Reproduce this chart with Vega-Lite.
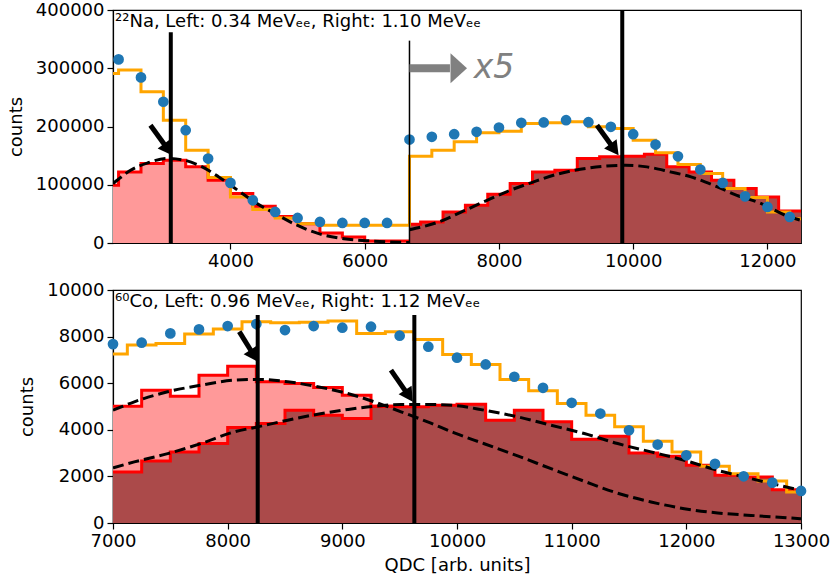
{
  "$schema": "https://vega.github.io/schema/vega-lite/v6.json",
  "padding": {"left": 6, "top": 0, "right": 2, "bottom": 2},
  "spacing": 9,
  "datasets": {
    "top_hist": [
      {"s": "sum", "x": 2250, "y": 291100}, {"s": "sum", "x": 2333, "y": 296800}, {"s": "sum", "x": 2667, "y": 259700},
      {"s": "sum", "x": 3000, "y": 210800}, {"s": "sum", "x": 3333, "y": 159300}, {"s": "sum", "x": 3667, "y": 112300},
      {"s": "sum", "x": 4000, "y": 79100}, {"s": "sum", "x": 4333, "y": 57300}, {"s": "sum", "x": 4667, "y": 43000},
      {"s": "sum", "x": 5000, "y": 33200}, {"s": "sum", "x": 5333, "y": 30300}, {"s": "sum", "x": 6667, "y": 148900},
      {"s": "sum", "x": 7000, "y": 159300}, {"s": "sum", "x": 7333, "y": 173700}, {"s": "sum", "x": 7667, "y": 189200},
      {"s": "sum", "x": 8000, "y": 191900}, {"s": "sum", "x": 8333, "y": 205200}, {"s": "sum", "x": 8667, "y": 206400},
      {"s": "sum", "x": 9000, "y": 208100}, {"s": "sum", "x": 9333, "y": 199500}, {"s": "sum", "x": 9667, "y": 196600},
      {"s": "sum", "x": 10000, "y": 176400}, {"s": "sum", "x": 10333, "y": 154800}, {"s": "sum", "x": 10667, "y": 134700},
      {"s": "sum", "x": 11000, "y": 119200}, {"s": "sum", "x": 11333, "y": 93400}, {"s": "sum", "x": 11667, "y": 77900},
      {"s": "sum", "x": 12000, "y": 53300}, {"s": "sum", "x": 12333, "y": 41800}, {"s": "sum", "x": 12500, "y": 41800},
      {"s": "left", "x": 2250, "y": 99100}, {"s": "left", "x": 2333, "y": 122100}, {"s": "left", "x": 2667, "y": 136400},
      {"s": "left", "x": 3000, "y": 142000}, {"s": "left", "x": 3333, "y": 130700}, {"s": "left", "x": 3667, "y": 107700},
      {"s": "left", "x": 4000, "y": 84800}, {"s": "left", "x": 4333, "y": 62900}, {"s": "left", "x": 4667, "y": 45700},
      {"s": "left", "x": 5000, "y": 33200}, {"s": "left", "x": 5333, "y": 17200}, {"s": "left", "x": 5667, "y": 10300},
      {"s": "left", "x": 6000, "y": 3400}, {"s": "left", "x": 6333, "y": 3400}, {"s": "left", "x": 6667, "y": 3400},
      {"s": "right", "x": 6667, "y": 32000}, {"s": "right", "x": 6833, "y": 36100}, {"s": "right", "x": 7167, "y": 53300},
      {"s": "right", "x": 7500, "y": 64700}, {"s": "right", "x": 7833, "y": 83600}, {"s": "right", "x": 8167, "y": 102000},
      {"s": "right", "x": 8500, "y": 122100}, {"s": "right", "x": 8833, "y": 124800}, {"s": "right", "x": 9167, "y": 145000},
      {"s": "right", "x": 9500, "y": 147900}, {"s": "right", "x": 9833, "y": 148900}, {"s": "right", "x": 10167, "y": 152400},
      {"s": "right", "x": 10500, "y": 130700}, {"s": "right", "x": 10833, "y": 122100}, {"s": "right", "x": 11167, "y": 107700},
      {"s": "right", "x": 11500, "y": 93400}, {"s": "right", "x": 11833, "y": 79100}, {"s": "right", "x": 12167, "y": 55000},
      {"s": "right", "x": 12500, "y": 55000}
    ],
    "top_dots": [
      {"x": 2333, "y": 315200}, {"x": 2667, "y": 284300}, {"x": 3000, "y": 242500}, {"x": 3333, "y": 193600},
      {"x": 3667, "y": 145000}, {"x": 4000, "y": 103200}, {"x": 4333, "y": 73300}, {"x": 4667, "y": 53300},
      {"x": 5000, "y": 43000}, {"x": 5333, "y": 36100}, {"x": 5667, "y": 34400}, {"x": 6000, "y": 34400},
      {"x": 6333, "y": 34400}, {"x": 6667, "y": 177600}, {"x": 7000, "y": 182300}, {"x": 7333, "y": 186800},
      {"x": 7667, "y": 190900}, {"x": 8000, "y": 198300}, {"x": 8333, "y": 206400}, {"x": 8667, "y": 206900},
      {"x": 9000, "y": 210800}, {"x": 9333, "y": 207400}, {"x": 9667, "y": 199500}, {"x": 10000, "y": 186800},
      {"x": 10333, "y": 169000}, {"x": 10667, "y": 148900}, {"x": 11000, "y": 126100}, {"x": 11333, "y": 103200},
      {"x": 11667, "y": 80100}, {"x": 12000, "y": 61900}, {"x": 12333, "y": 44700}
    ],
    "top_fit": [
      {"s": "left", "x": 2250, "y": 102000}, {"s": "left", "x": 2312, "y": 107700}, {"s": "left", "x": 2511, "y": 124800},
      {"s": "left", "x": 2769, "y": 137600}, {"s": "left", "x": 3057, "y": 145000}, {"s": "left", "x": 3316, "y": 142000},
      {"s": "left", "x": 3579, "y": 130700}, {"s": "left", "x": 3826, "y": 113500}, {"s": "left", "x": 4109, "y": 90500},
      {"s": "left", "x": 4372, "y": 69300}, {"s": "left", "x": 4645, "y": 51600}, {"s": "left", "x": 4943, "y": 33200},
      {"s": "left", "x": 5315, "y": 16000}, {"s": "left", "x": 5688, "y": 7400}, {"s": "left", "x": 6109, "y": 3400},
      {"s": "left", "x": 6606, "y": 1000}, {"s": "left", "x": 6667, "y": 900},
      {"s": "right", "x": 6667, "y": 22900}, {"s": "right", "x": 7102, "y": 36100}, {"s": "right", "x": 7474, "y": 55000},
      {"s": "right", "x": 7822, "y": 73300}, {"s": "right", "x": 8169, "y": 90500}, {"s": "right", "x": 8516, "y": 104900},
      {"s": "right", "x": 8865, "y": 118000}, {"s": "right", "x": 9212, "y": 126600}, {"s": "right", "x": 9550, "y": 131700},
      {"s": "right", "x": 9883, "y": 133400}, {"s": "right", "x": 10205, "y": 130700}, {"s": "right", "x": 10552, "y": 122100},
      {"s": "right", "x": 10861, "y": 113500}, {"s": "right", "x": 11197, "y": 99100}, {"s": "right", "x": 11545, "y": 81900},
      {"s": "right", "x": 11910, "y": 67600}, {"s": "right", "x": 12308, "y": 45700}, {"s": "right", "x": 12500, "y": 38900}
    ],
    "top_cuts": [
      {"kind": "cut", "x": 3111, "y": 361600},
      {"kind": "cut", "x": 9837, "y": 400000},
      {"kind": "split", "x": 6667, "y": 347400}
    ],
    "top_arrows": [
      {"x": 2808, "y": 202200, "xs": 3035, "ys": 166000, "xh": 3131, "yh": 150700},
      {"x": 9460, "y": 202200, "xs": 9686, "ys": 166000, "xh": 9782, "yh": 150700}
    ],
    "top_scale": [
      {"x": 6667, "xs": 7270, "xh": 7524, "xt": 7625, "y": 300000, "label": "x5"}
    ],
    "top_label": [
      {"x": 2250, "y": 400000, "label": "²²Na, Left: 0.34 MeVₑₑ, Right: 1.10 MeVₑₑ"}
    ],
    "bot_hist": [
      {"s": "sum", "x": 7000, "y": 7249}, {"s": "sum", "x": 7125, "y": 7635}, {"s": "sum", "x": 7375, "y": 7708},
      {"s": "sum", "x": 7625, "y": 8108}, {"s": "sum", "x": 7875, "y": 8323}, {"s": "sum", "x": 8125, "y": 8641},
      {"s": "sum", "x": 8375, "y": 8598}, {"s": "sum", "x": 8625, "y": 8611}, {"s": "sum", "x": 8875, "y": 8667},
      {"s": "sum", "x": 9125, "y": 8138}, {"s": "sum", "x": 9375, "y": 8211}, {"s": "sum", "x": 9625, "y": 7880},
      {"s": "sum", "x": 9875, "y": 7235}, {"s": "sum", "x": 10125, "y": 6805}, {"s": "sum", "x": 10375, "y": 6160},
      {"s": "sum", "x": 10625, "y": 5675}, {"s": "sum", "x": 10875, "y": 5129}, {"s": "sum", "x": 11125, "y": 4626},
      {"s": "sum", "x": 11375, "y": 4127}, {"s": "sum", "x": 11625, "y": 3508}, {"s": "sum", "x": 11875, "y": 3052},
      {"s": "sum", "x": 12125, "y": 2433}, {"s": "sum", "x": 12375, "y": 2119}, {"s": "sum", "x": 12625, "y": 1806},
      {"s": "sum", "x": 12875, "y": 1333}, {"s": "sum", "x": 13000, "y": 1333},
      {"s": "left", "x": 7000, "y": 5013}, {"s": "left", "x": 7250, "y": 5701}, {"s": "left", "x": 7500, "y": 5443},
      {"s": "left", "x": 7750, "y": 6346}, {"s": "left", "x": 8000, "y": 6732}, {"s": "left", "x": 8250, "y": 6062},
      {"s": "left", "x": 8500, "y": 5989}, {"s": "left", "x": 8750, "y": 5817}, {"s": "left", "x": 9000, "y": 5486},
      {"s": "left", "x": 9250, "y": 5013}, {"s": "left", "x": 9500, "y": 5013},
      {"s": "right", "x": 7000, "y": 2192}, {"s": "right", "x": 7250, "y": 2665}, {"s": "right", "x": 7500, "y": 3052},
      {"s": "right", "x": 7750, "y": 3409}, {"s": "right", "x": 8000, "y": 4097}, {"s": "right", "x": 8250, "y": 4269},
      {"s": "right", "x": 8500, "y": 4841}, {"s": "right", "x": 8750, "y": 4626}, {"s": "right", "x": 9000, "y": 4484},
      {"s": "right", "x": 9250, "y": 5013}, {"s": "right", "x": 9500, "y": 4987}, {"s": "right", "x": 9750, "y": 5056},
      {"s": "right", "x": 10000, "y": 5099}, {"s": "right", "x": 10250, "y": 4411}, {"s": "right", "x": 10500, "y": 4841},
      {"s": "right", "x": 10750, "y": 4342}, {"s": "right", "x": 11000, "y": 3594}, {"s": "right", "x": 11250, "y": 3723},
      {"s": "right", "x": 11500, "y": 3009}, {"s": "right", "x": 11750, "y": 2863}, {"s": "right", "x": 12000, "y": 2476},
      {"s": "right", "x": 12250, "y": 2046}, {"s": "right", "x": 12500, "y": 1978}, {"s": "right", "x": 12750, "y": 1432},
      {"s": "right", "x": 13000, "y": 1432}
    ],
    "bot_dots": [
      {"x": 7000, "y": 7678}, {"x": 7250, "y": 7738}, {"x": 7500, "y": 8138}, {"x": 7750, "y": 8310},
      {"x": 8000, "y": 8452}, {"x": 8250, "y": 8538}, {"x": 8500, "y": 8280}, {"x": 8750, "y": 8452},
      {"x": 9000, "y": 8383}, {"x": 9250, "y": 8426}, {"x": 9500, "y": 8039}, {"x": 9750, "y": 7566},
      {"x": 10000, "y": 7093}, {"x": 10250, "y": 6805}, {"x": 10500, "y": 6277}, {"x": 10750, "y": 5804},
      {"x": 11000, "y": 5159}, {"x": 11250, "y": 4699}, {"x": 11500, "y": 3981}, {"x": 11750, "y": 3366},
      {"x": 12000, "y": 2906}, {"x": 12250, "y": 2536}, {"x": 12500, "y": 2003}, {"x": 12750, "y": 1732},
      {"x": 13000, "y": 1376}
    ],
    "bot_fit": [
      {"s": "left", "x": 7000, "y": 4841}, {"s": "left", "x": 7186, "y": 5202}, {"s": "left", "x": 7477, "y": 5632},
      {"s": "left", "x": 7767, "y": 5916}, {"s": "left", "x": 8058, "y": 6130}, {"s": "left", "x": 8262, "y": 6160},
      {"s": "left", "x": 8524, "y": 6062}, {"s": "left", "x": 8785, "y": 5847}, {"s": "left", "x": 9047, "y": 5559},
      {"s": "left", "x": 9279, "y": 5202}, {"s": "left", "x": 9512, "y": 4772}, {"s": "left", "x": 9744, "y": 4342},
      {"s": "left", "x": 9977, "y": 3869}, {"s": "left", "x": 10238, "y": 3400}, {"s": "left", "x": 10529, "y": 2880},
      {"s": "left", "x": 10820, "y": 2330}, {"s": "left", "x": 11110, "y": 1790}, {"s": "left", "x": 11401, "y": 1280},
      {"s": "left", "x": 11692, "y": 903}, {"s": "left", "x": 11982, "y": 615}, {"s": "left", "x": 12273, "y": 430},
      {"s": "left", "x": 12564, "y": 327}, {"s": "left", "x": 13000, "y": 185},
      {"s": "right", "x": 7000, "y": 2364}, {"s": "right", "x": 7186, "y": 2622}, {"s": "right", "x": 7477, "y": 2979},
      {"s": "right", "x": 7767, "y": 3409}, {"s": "right", "x": 8058, "y": 3912}, {"s": "right", "x": 8262, "y": 4127},
      {"s": "right", "x": 8524, "y": 4411}, {"s": "right", "x": 8785, "y": 4669}, {"s": "right", "x": 9047, "y": 4871},
      {"s": "right", "x": 9279, "y": 5013}, {"s": "right", "x": 9512, "y": 5086}, {"s": "right", "x": 9744, "y": 5086},
      {"s": "right", "x": 9977, "y": 5043}, {"s": "right", "x": 10238, "y": 4841}, {"s": "right", "x": 10529, "y": 4557},
      {"s": "right", "x": 10820, "y": 4196}, {"s": "right", "x": 11110, "y": 3839}, {"s": "right", "x": 11401, "y": 3409},
      {"s": "right", "x": 11692, "y": 3052}, {"s": "right", "x": 11982, "y": 2691}, {"s": "right", "x": 12273, "y": 2261},
      {"s": "right", "x": 12564, "y": 1904}, {"s": "right", "x": 13000, "y": 1401}
    ],
    "bot_cuts": [
      {"x": 8262, "y": 8925},
      {"x": 9628, "y": 8925}
    ],
    "bot_arrows": [
      {"x": 8101, "y": 8211, "xs": 8212, "ys": 7330, "xh": 8262, "yh": 6921},
      {"x": 9424, "y": 6560, "xs": 9560, "ys": 5593, "xh": 9614, "yh": 5202}
    ],
    "bot_label": [
      {"x": 7000, "y": 10000, "label": "⁶⁰Co, Left: 0.96 MeVₑₑ, Right: 1.12 MeVₑₑ"}
    ]
  },
  "vconcat": [
    {
      "width": 688,
      "height": 233,
      "encoding": {
        "x": {
          "field": "x",
          "type": "quantitative",
          "scale": {"domain": [2250, 12500], "nice": false, "zero": false},
          "axis": {"values": [4000, 6000, 8000, 10000, 12000], "format": "d", "title": null}
        },
        "y": {
          "field": "y",
          "type": "quantitative",
          "scale": {"domain": [0, 400000], "nice": false},
          "axis": {"values": [0, 100000, 200000, 300000, 400000], "format": "d", "title": "counts"}
        }
      },
      "layer": [
        {
          "data": {"name": "top_hist"},
          "transform": [{"filter": "datum.s == 'left'"}],
          "mark": {"type": "area", "interpolate": "step-after", "color": "#ff9999", "opacity": 1, "clip": true}
        },
        {
          "data": {"name": "top_hist"},
          "transform": [{"filter": "datum.s == 'right'"}],
          "mark": {"type": "area", "interpolate": "step-after", "color": "#ab4a4a", "opacity": 1, "clip": true}
        },
        {
          "data": {"name": "top_hist"},
          "transform": [{"filter": "datum.s != 'sum'"}],
          "mark": {"type": "line", "interpolate": "step-after", "color": "#ff0000", "strokeWidth": 3, "clip": true},
          "encoding": {"detail": {"field": "s"}}
        },
        {
          "data": {"name": "top_hist"},
          "transform": [{"filter": "datum.s == 'sum'"}],
          "mark": {"type": "line", "interpolate": "step-after", "color": "#ffa500", "strokeWidth": 3, "clip": true}
        },
        {
          "data": {"name": "top_fit"},
          "mark": {"type": "line", "interpolate": "monotone", "color": "black", "strokeWidth": 3, "strokeDash": [11, 5], "clip": true},
          "encoding": {"detail": {"field": "s"}}
        },
        {
          "data": {"name": "top_dots"},
          "mark": {"type": "circle", "color": "#1f77b4", "size": 115, "opacity": 1}
        },
        {
          "data": {"name": "top_cuts"},
          "transform": [{"filter": "datum.kind == 'cut'"}],
          "mark": {"type": "rule", "color": "black", "strokeWidth": 4},
          "encoding": {"y2": {"datum": 0}}
        },
        {
          "data": {"name": "top_cuts"},
          "transform": [{"filter": "datum.kind == 'split'"}],
          "mark": {"type": "rule", "color": "black", "strokeWidth": 1.5},
          "encoding": {"y2": {"datum": 0}}
        },
        {
          "data": {"name": "top_arrows"},
          "mark": {"type": "rule", "color": "black", "strokeWidth": 5},
          "encoding": {"x2": {"field": "xs"}, "y2": {"field": "ys"}}
        },
        {
          "data": {"name": "top_arrows"},
          "mark": {"type": "point", "shape": "M0,0L-0.55,-1L0.55,-1Z", "filled": true, "color": "black", "opacity": 1, "size": 784, "angle": 324},
          "encoding": {"x": {"field": "xh", "type": "quantitative"}, "y": {"field": "yh", "type": "quantitative"}}
        },
        {
          "data": {"name": "top_scale"},
          "mark": {"type": "rule", "color": "#808080", "strokeWidth": 8},
          "encoding": {"x2": {"field": "xs"}}
        },
        {
          "data": {"name": "top_scale"},
          "mark": {"type": "point", "shape": "M0,0L-1.1,-1L-1.1,1Z", "filled": true, "color": "#808080", "opacity": 1, "size": 900},
          "encoding": {"x": {"field": "xh", "type": "quantitative"}}
        },
        {
          "data": {"name": "top_scale"},
          "mark": {"type": "text", "font": "DejaVu Sans", "fontStyle": "italic", "fontSize": 33, "color": "#808080", "align": "left", "baseline": "middle"},
          "encoding": {"x": {"field": "xt", "type": "quantitative"}, "text": {"field": "label"}}
        },
        {
          "data": {"name": "top_label"},
          "mark": {"type": "text", "font": "DejaVu Sans", "fontSize": 18, "color": "black", "align": "left", "baseline": "top", "dx": 2, "dy": 3},
          "encoding": {"text": {"field": "label"}}
        }
      ]
    },
    {
      "width": 688,
      "height": 233,
      "encoding": {
        "x": {
          "field": "x",
          "type": "quantitative",
          "scale": {"domain": [7000, 13000], "nice": false, "zero": false},
          "axis": {"values": [7000, 8000, 9000, 10000, 11000, 12000, 13000], "format": "d", "title": "QDC [arb. units]", "titlePadding": 6}
        },
        "y": {
          "field": "y",
          "type": "quantitative",
          "scale": {"domain": [0, 10000], "nice": false},
          "axis": {"values": [0, 2000, 4000, 6000, 8000, 10000], "format": "d", "title": "counts"}
        }
      },
      "layer": [
        {
          "data": {"name": "bot_hist"},
          "transform": [{"filter": "datum.s == 'left'"}],
          "mark": {"type": "area", "interpolate": "step-after", "color": "#ff9999", "opacity": 1, "clip": true}
        },
        {
          "data": {"name": "bot_hist"},
          "transform": [{"filter": "datum.s == 'right'"}],
          "mark": {"type": "area", "interpolate": "step-after", "color": "#ab4a4a", "opacity": 1, "clip": true}
        },
        {
          "data": {"name": "bot_hist"},
          "transform": [{"filter": "datum.s != 'sum'"}],
          "mark": {"type": "line", "interpolate": "step-after", "color": "#ff0000", "strokeWidth": 3, "clip": true},
          "encoding": {"detail": {"field": "s"}}
        },
        {
          "data": {"name": "bot_hist"},
          "transform": [{"filter": "datum.s == 'sum'"}],
          "mark": {"type": "line", "interpolate": "step-after", "color": "#ffa500", "strokeWidth": 3, "clip": true}
        },
        {
          "data": {"name": "bot_fit"},
          "mark": {"type": "line", "interpolate": "monotone", "color": "black", "strokeWidth": 3, "strokeDash": [11, 5], "clip": true},
          "encoding": {"detail": {"field": "s"}}
        },
        {
          "data": {"name": "bot_dots"},
          "mark": {"type": "circle", "color": "#1f77b4", "size": 115, "opacity": 1}
        },
        {
          "data": {"name": "bot_cuts"},
          "mark": {"type": "rule", "color": "black", "strokeWidth": 4},
          "encoding": {"y2": {"datum": 0}}
        },
        {
          "data": {"name": "bot_arrows"},
          "mark": {"type": "rule", "color": "black", "strokeWidth": 5},
          "encoding": {"x2": {"field": "xs"}, "y2": {"field": "ys"}}
        },
        {
          "data": {"name": "bot_arrows"},
          "mark": {"type": "point", "shape": "M0,0L-0.55,-1L0.55,-1Z", "filled": true, "color": "black", "opacity": 1, "size": 784, "angle": 327},
          "encoding": {"x": {"field": "xh", "type": "quantitative"}, "y": {"field": "yh", "type": "quantitative"}}
        },
        {
          "data": {"name": "bot_label"},
          "mark": {"type": "text", "font": "DejaVu Sans", "fontSize": 18, "color": "black", "align": "left", "baseline": "top", "dx": 2, "dy": 3},
          "encoding": {"text": {"field": "label"}}
        }
      ]
    }
  ],
  "config": {
    "font": "DejaVu Sans",
    "view": {"stroke": "black", "strokeWidth": 1.2},
    "axis": {
      "grid": false,
      "labelFont": "DejaVu Sans",
      "titleFont": "DejaVu Sans",
      "domainColor": "black",
      "domainWidth": 1.2,
      "tickColor": "black",
      "tickWidth": 1.2,
      "tickSize": 6,
      "labelFontSize": 18,
      "labelColor": "black",
      "labelPadding": 3,
      "labelFlush": false,
      "labelOverlap": false,
      "titleFontSize": 18,
      "titleFontWeight": "normal",
      "titleColor": "black",
      "titlePadding": 10
    }
  }
}
